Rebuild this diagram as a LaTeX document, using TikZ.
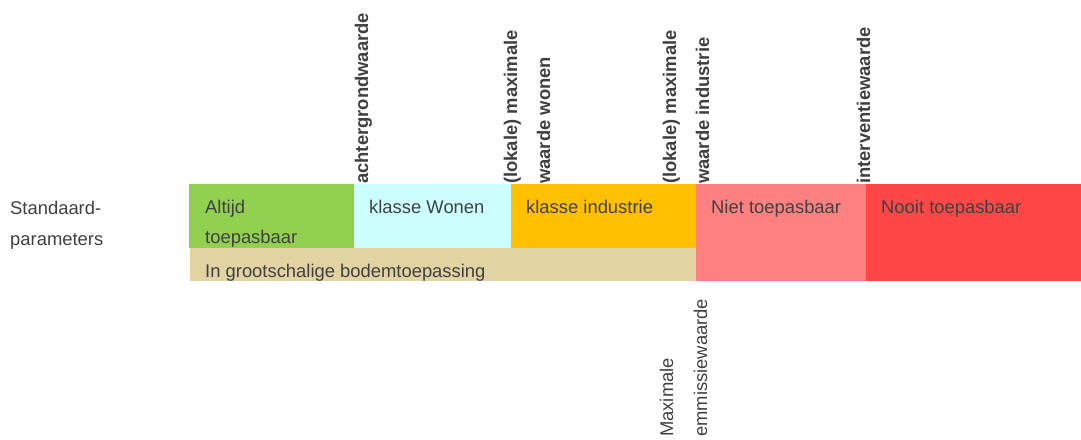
\documentclass[tikz,border=0pt]{standalone}
\usepackage{fontspec}
\setmainfont{Liberation Sans}
\definecolor{cgreen}{HTML}{92D050}
\definecolor{ccyan}{HTML}{CCFFFF}
\definecolor{corange}{HTML}{FFC000}
\definecolor{ctan}{HTML}{E1D3A2}
\definecolor{cpink}{HTML}{FF8080}
\definecolor{cred}{HTML}{FF4747}
\definecolor{txt}{HTML}{404040}
\begin{document}
\begin{tikzpicture}[x=1pt,y=-1pt,
  lbl/.style={anchor=base west,inner sep=0pt,text=txt,font=\fontsize{18.4}{30}\selectfont},
  vlbl/.style={anchor=base west,inner sep=0pt,text=txt,rotate=90,align=left,font=\fontsize{18.4}{33}\selectfont\bfseries},
  vnorm/.style={anchor=base west,inner sep=0pt,text=txt,rotate=90,align=left,font=\fontsize{18.4}{34}\selectfont}]
\useasboundingbox (0,0) rectangle (1081,439);
% bands
\fill[cgreen] (189,184) rectangle (354,248);
\fill[ccyan] (354,184) rectangle (511,248);
\fill[corange] (511,184) rectangle (696,248);
\fill[ctan] (190,248) rectangle (696,281);
\fill[cpink] (696,184) rectangle (866,281);
\fill[cred] (866,184) rectangle (1081,281);
% texts
\node[lbl] (std1) at (10,214) {Standaard-};
\node[lbl] (std2) at (10,245) {parameters};
\node[lbl] (alt1) at (205,213) {Altijd};
\node[lbl] (alt2) at (205,243) {toepasbaar};
\node[lbl] (won) at (369,213) {klasse Wonen};
\node[lbl] (ind) at (526,213) {klasse industrie};
\node[lbl] (grs) at (205,277) {In grootschalige bodemtoepassing};
\node[lbl] (niet) at (711,213) {Niet toepasbaar};
\node[lbl] (nooit) at (881,213) {Nooit toepasbaar};
% vertical labels
\node[vlbl] (achter) at (368,184) {achtergrondwaarde};
\node[vlbl] (maxwon) at (550,184) {(lokale) maximale\\waarde wonen};
\node[vlbl] (maxind) at (709,184) {(lokale) maximale\\waarde industrie};
\node[vlbl] (interv) at (870,184) {interventiewaarde};
\node[vnorm] (emis) at (707,437) {Maximale\\emmissiewaarde};
\end{tikzpicture}
\end{document}
